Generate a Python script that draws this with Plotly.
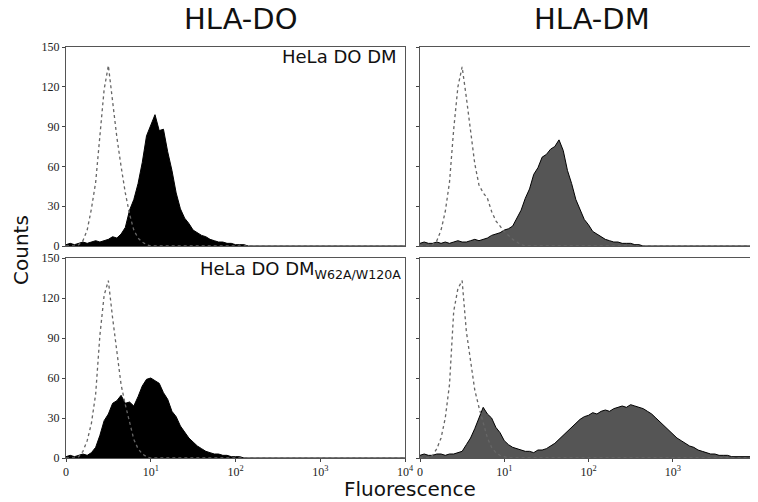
import numpy as np
import plotly.graph_objects as go
from plotly.subplots import make_subplots

# histogram bins: log10(fluorescence) from 0 to 4 in steps of 0.05
log_bins = np.round(np.arange(0, 4.0001, 0.05), 2)
fluor = 10 ** log_bins

# HLA-DO, HeLa DO DM
do_wt_stain = [1, 2, 1, 2, 3, 2, 3, 4, 3, 4,
               5, 7, 6, 9, 14, 27, 35, 47, 63, 83,
               91, 99, 87, 88, 71, 57, 40, 28, 21, 17,
               12, 10, 8, 7, 5, 4, 3, 3, 2, 2,
               1, 1, 1, 0, 0, 0, 0, 0, 0, 0,
               0, 0, 0, 0, 0, 0, 0, 0, 0, 0,
               0, 0, 0, 0, 0, 0, 0, 0, 0, 0,
               0, 0, 0, 0, 0, 0, 0, 0, 0, 0, 0]
do_wt_ctrl = [0, 0, 0, 1, 4, 12, 28, 48, 85, 118,
              136, 108, 82, 60, 40, 24, 12, 6, 3, 1,
              0, 0, 0, 0, 0, 0, 0, 0, 0, 0,
              0, 0, 0, 0, 0, 0, 0, 0, 0, 0,
              0, 0, 0, 0, 0, 0, 0, 0, 0, 0,
              0, 0, 0, 0, 0, 0, 0, 0, 0, 0,
              0, 0, 0, 0, 0, 0, 0, 0, 0, 0,
              0, 0, 0, 0, 0, 0, 0, 0, 0, 0, 0]

# HLA-DO, HeLa DO DM W62A/W120A
do_mut_stain = [1, 2, 1, 2, 3, 2, 4, 8, 17, 28,
                33, 41, 43, 47, 41, 42, 39, 46, 54, 59,
                60, 58, 56, 49, 44, 35, 31, 24, 19, 15,
                12, 9, 7, 5, 4, 3, 3, 2, 2, 1,
                1, 1, 0, 0, 0, 0, 0, 0, 0, 0,
                0, 0, 0, 0, 0, 0, 0, 0, 0, 0,
                0, 0, 0, 0, 0, 0, 0, 0, 0, 0,
                0, 0, 0, 0, 0, 0, 0, 0, 0, 0, 0]
do_mut_ctrl = [0, 0, 0, 1, 5, 13, 26, 48, 92, 122,
               133, 105, 80, 55, 40, 26, 14, 7, 3, 1,
               0, 0, 0, 0, 0, 0, 0, 0, 0, 0,
               0, 0, 0, 0, 0, 0, 0, 0, 0, 0,
               0, 0, 0, 0, 0, 0, 0, 0, 0, 0,
               0, 0, 0, 0, 0, 0, 0, 0, 0, 0,
               0, 0, 0, 0, 0, 0, 0, 0, 0, 0,
               0, 0, 0, 0, 0, 0, 0, 0, 0, 0, 0]

# HLA-DM, HeLa DO DM
dm_wt_stain = [2, 3, 2, 2, 3, 2, 3, 2, 3, 4,
               3, 3, 4, 5, 4, 5, 6, 8, 9, 10,
               12, 13, 15, 21, 27, 36, 43, 54, 59, 67,
               69, 73, 75, 80, 72, 57, 47, 35, 28, 20,
               16, 11, 9, 7, 5, 4, 3, 3, 2, 2,
               2, 1, 1, 0, 0, 0, 0, 0, 0, 0,
               0, 0, 0, 0, 0, 0, 0, 0, 0, 0,
               0, 0, 0, 0, 0, 0, 0, 0, 0, 0, 0]
dm_wt_ctrl = [0, 0, 0, 1, 4, 12, 26, 48, 88, 120,
              135, 112, 85, 62, 46, 40, 36, 26, 19, 15,
              11, 8, 5, 3, 1, 0, 0, 0, 0, 0,
              0, 0, 0, 0, 0, 0, 0, 0, 0, 0,
              0, 0, 0, 0, 0, 0, 0, 0, 0, 0,
              0, 0, 0, 0, 0, 0, 0, 0, 0, 0,
              0, 0, 0, 0, 0, 0, 0, 0, 0, 0,
              0, 0, 0, 0, 0, 0, 0, 0, 0, 0, 0]

# HLA-DM, HeLa DO DM W62A/W120A
dm_mut_stain = [2, 3, 2, 2, 3, 3, 2, 3, 3, 4,
                5, 10, 15, 22, 30, 38, 33, 30, 23, 19,
                13, 10, 8, 7, 6, 5, 5, 4, 6, 6,
                7, 9, 11, 14, 17, 20, 23, 26, 29, 31,
                32, 34, 33, 35, 36, 35, 37, 38, 39, 38,
                40, 39, 38, 37, 35, 33, 30, 27, 24, 21,
                18, 15, 13, 11, 9, 8, 6, 5, 4, 3,
                3, 2, 2, 2, 1, 1, 1, 1, 1, 1, 1]
dm_mut_ctrl = [0, 0, 0, 2, 7, 15, 30, 55, 110, 127,
               133, 95, 74, 51, 38, 26, 15, 8, 4, 2,
               1, 0, 0, 0, 0, 0, 0, 0, 0, 0,
               0, 0, 0, 0, 0, 0, 0, 0, 0, 0,
               0, 0, 0, 0, 0, 0, 0, 0, 0, 0,
               0, 0, 0, 0, 0, 0, 0, 0, 0, 0,
               0, 0, 0, 0, 0, 0, 0, 0, 0, 0,
               0, 0, 0, 0, 0, 0, 0, 0, 0, 0, 0]

count_ticks = [0, 30, 60, 90, 120, 150]
fluor_ticks = [1, 10, 100, 1000, 10000]
fluor_labels = ["0", "10<sup>1</sup>", "10<sup>2</sup>", "10<sup>3</sup>", "10<sup>4</sup>"]

panels = [
    (1, 1, do_wt_stain, do_wt_ctrl, "#000000"),
    (1, 2, dm_wt_stain, dm_wt_ctrl, "#555555"),
    (2, 1, do_mut_stain, do_mut_ctrl, "#000000"),
    (2, 2, dm_mut_stain, dm_mut_ctrl, "#555555"),
]

# the page puts the figure 8px in from the top-left corner
W, H = 750, 494


def px(x):
    return (x - 8) / W


def py(y):
    return (502 - y) / H


fig = make_subplots(rows=2, cols=2)
for row, col, stain, ctrl, fillc in panels:
    fig.add_trace(go.Scatter(x=fluor, y=stain, mode="lines", line=dict(color="#000", width=1),
                             fill="tozeroy", fillcolor=fillc, showlegend=False), row=row, col=col)
    fig.add_trace(go.Scatter(x=fluor, y=ctrl, mode="lines", line=dict(color="#666", width=1.3, dash="dot"),
                             showlegend=False), row=row, col=col)

tick_font = dict(family="Liberation Serif", size=12, color="#222")
x_dom = {1: [px(66), px(405)], 2: [px(420), px(757)]}
y_dom = {1: [py(246), py(47)], 2: [py(458), py(258)]}
for row in (1, 2):
    for col in (1, 2):
        fig.update_xaxes(type="log", range=[0, 4], domain=x_dom[col], tickvals=fluor_ticks,
                         ticktext=fluor_labels, showticklabels=(row == 2), ticks="outside" if row == 2 else "",
                         ticklen=3, tickfont=tick_font, showgrid=False, zeroline=False, automargin=False,
                         showline=True, mirror=True, linecolor="#555", linewidth=1, row=row, col=col)
        fig.update_yaxes(range=[0, 150], domain=y_dom[row], tickvals=count_ticks,
                         showticklabels=(col == 1), ticks="outside", ticklen=3, tickfont=tick_font,
                         showgrid=False, zeroline=False, showline=True, mirror=True, automargin=False,
                         linecolor="#555", linewidth=1, row=row, col=col)

notes = [
    dict(text="HLA-DO", x=px(241), y=py(19), font=dict(size=29)),
    dict(text="HLA-DM", x=px(592), y=py(19), font=dict(size=29)),
    dict(text="Counts", x=px(21), y=py(250), textangle=-90, font=dict(size=20)),
    dict(text="Fluorescence", x=px(410), y=py(489), font=dict(size=20)),
    dict(text="HeLa DO DM", x=px(399), y=py(57), xanchor="right", font=dict(size=18)),
    dict(text="HeLa DO DM<sub>W62A/W120A</sub>", x=px(403), y=py(270), xanchor="right",
         font=dict(size=18)),
]
for n in notes:
    n.setdefault("xanchor", "center")
    n["font"] = dict(family="DejaVu Sans", color="#111", **n["font"])
    fig.add_annotation(xref="paper", yref="paper", yanchor="middle", showarrow=False, **n)

fig.update_layout(width=W, height=H, margin=dict(l=0, r=0, t=0, b=0),
                  plot_bgcolor="white", paper_bgcolor="white")
fig.write_html("out.html")
